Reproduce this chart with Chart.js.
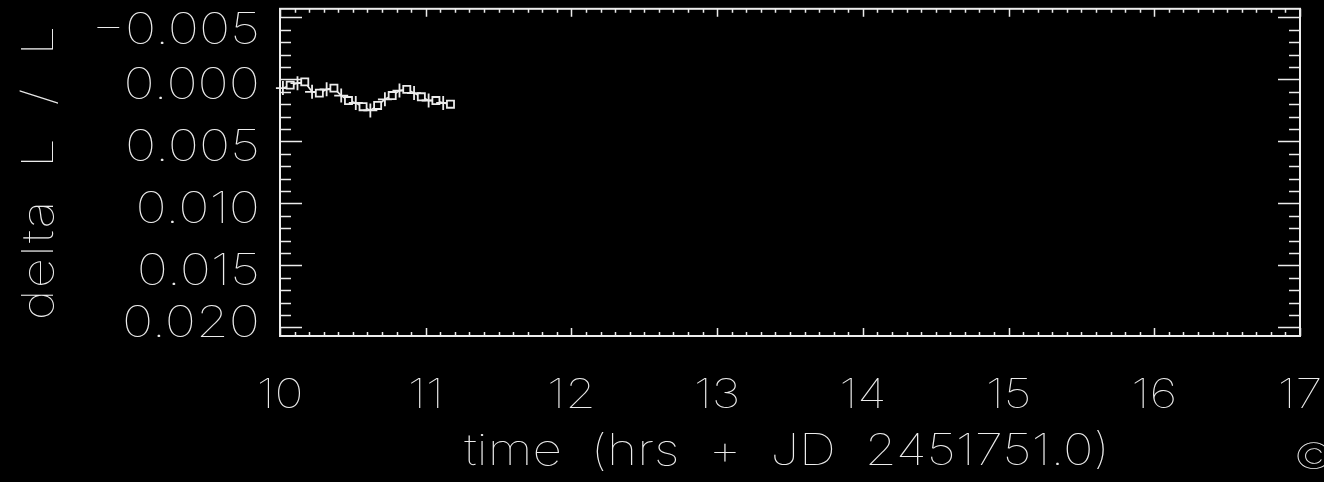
<!DOCTYPE html>
<html>
<head>
<meta charset="utf-8">
<script src="https://cdn.jsdelivr.net/npm/chart.js@4.4.1/dist/chart.umd.min.js"></script>
<style>
  html, body { margin: 0; padding: 0; background: #000; overflow: hidden; }
  canvas { display: block; }
</style>
</head>
<body>
<canvas id="c" width="1324" height="482"></canvas>
<script>
// Observation times (hours past JD 2451751.0) and relative flux change
const times  = [10.02, 10.07, 10.12, 10.17, 10.22, 10.27, 10.32, 10.37, 10.42, 10.47, 10.52, 10.57,
                10.62, 10.67, 10.72, 10.77, 10.82, 10.87, 10.92, 10.97, 11.02, 11.07, 11.12, 11.17];
const deltaL = [0.0007, 0.00046, 0.0003, 0.0002, 0.0010, 0.0011, 0.0008, 0.0007, 0.0013, 0.0017, 0.0019, 0.0022,
                0.0025, 0.0021, 0.0016, 0.0013, 0.0009, 0.0008, 0.0011, 0.0014, 0.0017, 0.0017, 0.0019, 0.0020];

// Axis tick values
const xTicks = [10, 11, 12, 13, 14, 15, 16, 17];
const yTicks = [-0.005, 0.000, 0.005, 0.010, 0.015, 0.020];

const xTitle = 'time (hrs + JD 2451751.0)';
const yTitle = 'delta L / L';
const cornerMark = '\u00A9';

const FG = '#ececec';
const FONT_FAMILY = 'Inter, Roboto, "Liberation Sans", sans-serif';
const FONT_WEIGHT = '100';
const STRETCH = 1.2;   // wide, plotter-style lettering

function fmtY(v) {
  const s = Math.abs(v).toFixed(3);
  return v < 0 ? '\u2212' + s : s;
}

// Draw one horizontally stretched text run; angle rotates around the anchor
function drawText(ctx, text, x, y, opts) {
  const o = Object.assign({size: 44, align: 'center', angle: 0, letter: 0, word: 0}, opts);
  ctx.save();
  ctx.translate(x, y);
  if (o.angle) ctx.rotate(o.angle);
  ctx.scale(STRETCH, 1);
  ctx.font = FONT_WEIGHT + ' ' + o.size + 'px ' + FONT_FAMILY;
  ctx.letterSpacing = o.letter + 'px';
  ctx.wordSpacing = o.word + 'px';
  ctx.textAlign = o.align;
  ctx.textBaseline = 'alphabetic';
  ctx.fillStyle = FG;
  ctx.fillText(text, 0, 0);
  ctx.restore();
}

const bgPlugin = {
  id: 'bg',
  beforeDraw(chart) {
    const ctx = chart.ctx;
    ctx.save();
    ctx.fillStyle = '#000';
    ctx.fillRect(0, 0, chart.width, chart.height);
    ctx.restore();
  }
};

// Framed box with inward ticks on all four sides, tick labels, axis titles and the corner mark
const framePlugin = {
  id: 'frame',
  afterDraw(chart) {
    const ctx = chart.ctx;
    const xs = chart.scales.x, ys = chart.scales.y;
    const {left, right, top, bottom} = chart.chartArea;
    ctx.save();
    ctx.strokeStyle = FG;
    ctx.lineWidth = 2;
    ctx.strokeRect(left, top, right - left, bottom - top);

    ctx.lineWidth = 1.5;
    ctx.beginPath();
    // x ticks: major every hour, minor every 0.1 hr
    for (let i = Math.round(xs.min * 10); i <= Math.round(xs.max * 10); i++) {
      const px = Math.round(xs.getPixelForValue(i / 10)) + 0.5;
      const len = (i % 10 === 0) ? 8 : 4;
      ctx.moveTo(px, bottom); ctx.lineTo(px, bottom - len);
      ctx.moveTo(px, top); ctx.lineTo(px, top + len);
    }
    // y ticks: major every 0.005, minor every 0.001
    for (let i = Math.ceil(ys.min * 1000); i <= Math.floor(ys.max * 1000); i++) {
      const py = Math.round(ys.getPixelForValue(i / 1000)) + 0.5;
      const len = (i % 5 === 0) ? 22 : 11;
      ctx.moveTo(left, py); ctx.lineTo(left + len, py);
      ctx.moveTo(right, py); ctx.lineTo(right - len, py);
    }
    ctx.stroke();
    ctx.restore();

    // y tick labels, kept inside the frame's vertical extent
    const half = 16;
    ys.ticks.forEach(t => {
      let cy = ys.getPixelForValue(t.value) + 4;
      if (cy - half < top + 3) cy = top + 3 + half;
      if (cy + half > bottom + 1) cy = bottom + 1 - half;
      drawText(ctx, fmtY(t.value), left - 20, cy + half, {size: 44, align: 'right'});
    });

    // x tick labels
    xs.ticks.forEach(t => {
      drawText(ctx, String(t.value), xs.getPixelForValue(t.value), bottom + 72, {size: 41});
    });

    // axis titles
    drawText(ctx, xTitle, (left + right) / 2 - 3, 465, {size: 43, word: 12});
    drawText(ctx, yTitle, 53, (top + bottom) / 2, {size: 44, angle: -Math.PI / 2, word: 13, letter: 1});

    drawText(ctx, cornerMark, 1294, 469, {size: 36, align: 'left'});
  }
};

new Chart(document.getElementById('c'), {
  type: 'line',
  data: {
    datasets: [{
      data: times.map((t, i) => ({x: t, y: deltaL[i]})),
      borderColor: FG,
      borderWidth: 1.6,
      tension: 0,
      pointStyle: ctx => (ctx.dataIndex % 2 ? 'rect' : 'cross'),
      pointRadius: ctx => (ctx.dataIndex % 2 ? 5 : 7),
      pointBorderColor: FG,
      pointBackgroundColor: '#000',
      pointBorderWidth: 1.8,
      clip: false
    }]
  },
  options: {
    responsive: false,
    animation: false,
    devicePixelRatio: 1,
    layout: { padding: { top: 7, right: 24, left: 0, bottom: 0 } },
    plugins: { legend: { display: false }, tooltip: { enabled: false } },
    scales: {
      x: {
        type: 'linear',
        min: 10, max: 17,
        afterBuildTicks: s => { s.ticks = xTicks.map(v => ({value: v})); },
        afterFit: s => { s.height = 146; s.paddingLeft = 0; s.paddingRight = 0; },
        grid: { display: false, drawTicks: false },
        border: { display: false },
        ticks: { display: false },
        title: { display: false }
      },
      y: {
        type: 'linear',
        reverse: true,
        min: -0.0057, max: 0.0207,
        afterBuildTicks: s => { s.ticks = yTicks.map(v => ({value: v})); },
        afterFit: s => { s.width = 280; s.paddingTop = 0; s.paddingBottom = 0; },
        grid: { display: false, drawTicks: false },
        border: { display: false },
        ticks: { display: false },
        title: { display: false }
      }
    }
  },
  plugins: [bgPlugin, framePlugin]
});
</script>
</body>
</html>
